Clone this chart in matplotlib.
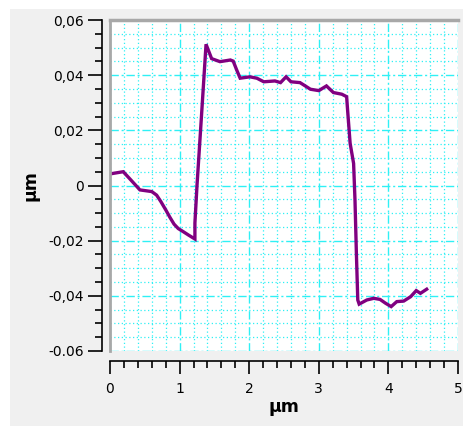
import matplotlib.pyplot as plt
from matplotlib.ticker import MultipleLocator, FixedLocator, FixedFormatter
from matplotlib.patches import Rectangle

# profile trace (µm)
x_um = [0.0, 0.19, 0.30, 0.43, 0.60, 0.67, 0.73, 0.80, 0.86, 0.92, 0.98, 1.05,
        1.13, 1.22, 1.22, 1.25, 1.32, 1.38, 1.46, 1.58, 1.73, 1.77, 1.82, 1.87,
        2.01, 2.11, 2.21, 2.37, 2.45, 2.53, 2.60, 2.73, 2.88, 3.00, 3.11, 3.21,
        3.33, 3.40, 3.41, 3.45, 3.50, 3.52, 3.54, 3.56, 3.58, 3.69, 3.79, 3.88,
        3.96, 4.04, 4.12, 4.22, 4.32, 4.40, 4.46, 4.55]
z_um = [0.0042, 0.0050, 0.0020, -0.0016, -0.0022, -0.0035, -0.0058, -0.0088,
        -0.0115, -0.0140, -0.0156, -0.0167, -0.0180, -0.0194, -0.0136, 0.0000,
        0.0274, 0.0512, 0.0460, 0.0449, 0.0455, 0.0451, 0.0419, 0.0389, 0.0394,
        0.0389, 0.0376, 0.0379, 0.0373, 0.0394, 0.0376, 0.0373, 0.0349, 0.0344,
        0.0361, 0.0337, 0.0331, 0.0322, 0.0286, 0.0153, 0.0080, -0.0053,
        -0.0246, -0.0415, -0.0430, -0.0415, -0.0409, -0.0413, -0.0427, -0.0439,
        -0.0421, -0.0419, -0.0403, -0.0381, -0.0391, -0.0376]

y_ticks = [-0.06, -0.04, -0.02, 0.0, 0.02, 0.04, 0.06]
y_labels = ["-0.06", "-0,04", "-0,02", "0", "0,02", "0,04", "0,06"]
x_ticks = [0, 1, 2, 3, 4, 5]

W, H = 464, 426
fig = plt.figure(figsize=(W / 100, H / 100), dpi=100, facecolor="#f0f0f0")
# white strips along the top and left edge
fig.add_artist(Rectangle((0, 1 - 9 / H), 1, 9 / H, transform=fig.transFigure,
                         facecolor="white", edgecolor="none", zorder=-10))
fig.add_artist(Rectangle((0, 0), 10 / W, 1, transform=fig.transFigure,
                         facecolor="white", edgecolor="none", zorder=-10))

ax = fig.add_axes([110 / W, 1 - 351 / H, 348 / W, 331 / H])
ax.set_facecolor("white")
ax.plot(x_um, z_um, color="#800080", lw=2.4, solid_joinstyle="miter", zorder=3)

ax.set_xlim(0, 5)
ax.set_ylim(-0.06, 0.06)

ax.yaxis.set_major_locator(FixedLocator(y_ticks))
ax.yaxis.set_major_formatter(FixedFormatter(y_labels))
ax.yaxis.set_minor_locator(MultipleLocator(0.005))
ax.xaxis.set_major_locator(FixedLocator(x_ticks))
ax.xaxis.set_minor_locator(MultipleLocator(0.2))

cyan = "#2ff0f5"
ax.grid(which="major", color=cyan, ls=(0, (6, 2, 1.5, 2)), lw=1.0)
ax.grid(which="minor", color=cyan, ls=(0, (1, 2)), lw=0.9)

ax.spines["right"].set_visible(False)
ax.spines["top"].set_color("#a8a8a8")
ax.spines["top"].set_linewidth(2.5)
ax.spines["left"].set_position(("outward", 6))
ax.spines["left"].set_color("black")
ax.spines["left"].set_linewidth(1.2)
ax.spines["bottom"].set_position(("outward", 7))
ax.spines["bottom"].set_color("black")
ax.spines["bottom"].set_linewidth(1.2)
ax.plot([0, 0], [0, 1], transform=ax.transAxes, color="#a8a8a8", lw=2.0,
        clip_on=False, zorder=4)

ax.tick_params(which="major", length=10, width=1.2, color="black",
               labelsize=10, pad=3)
ax.tick_params(which="minor", length=5, width=1.2, color="black")
ax.tick_params(axis="x", which="major", length=9, pad=6)

ax.set_xlabel("µm", fontsize=12.5, fontweight="bold", labelpad=2)
ax.set_ylabel("µm", fontsize=12.5, fontweight="bold", labelpad=6)

fig.savefig("out.png", dpi=100, facecolor=fig.get_facecolor())
